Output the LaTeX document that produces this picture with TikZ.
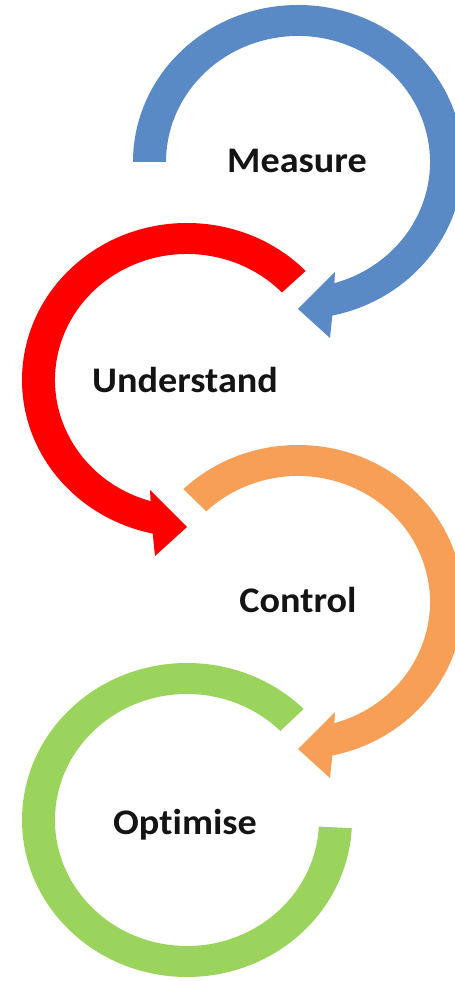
\documentclass[tikz,border=0pt]{standalone}
\usepackage{fontspec}
\setmainfont{Carlito}[Ligatures=NoCommon]
\definecolor{cblue}{HTML}{5A8AC6}
\definecolor{cred}{HTML}{FF0000}
\definecolor{corange}{HTML}{F79F56}
\definecolor{cgreen}{HTML}{9BD45C}
\definecolor{txt}{HTML}{141414}
\begin{document}
\begin{tikzpicture}[x=0.02cm,y=0.02cm,
  lbl/.style={font=\fontsize{20.5}{24}\selectfont\bfseries, text=txt, inner sep=0pt, anchor=base}]
\useasboundingbox (0,0) rectangle (454,981);
% Measure (blue)
\begin{scope}[shift={(298,819)}]
\fill[cblue] (180:165 and 157) arc[start angle=180,end angle=-78,x radius=165,y radius=157]
  -- (32,-176) -- (0,-147) -- (37,-110) -- (-74:132 and 126)
  arc[start angle=-74,end angle=180,x radius=132,y radius=126] -- cycle;
\end{scope}
% Understand (red)
\begin{scope}[shift={(187,601)},xscale=-1]
\fill[cred] (136:165 and 157) arc[start angle=136,end angle=-78,x radius=165,y radius=157]
  -- (32,-176) -- (0,-147) -- (37,-110) -- (-74:132 and 126)
  arc[start angle=-74,end angle=136,x radius=132,y radius=126] -- cycle;
\end{scope}
% Control (orange)
\begin{scope}[shift={(298,379)}]
\fill[corange] (134:165 and 157) arc[start angle=134,end angle=-78,x radius=165,y radius=157]
  -- (32,-176) -- (0,-147) -- (37,-110) -- (-74:132 and 126)
  arc[start angle=-74,end angle=134,x radius=132,y radius=126] -- cycle;
\end{scope}
% Optimise (green)
\begin{scope}[shift={(187,161)},xscale=-1]
\fill[cgreen] (135:165 and 157) arc[start angle=135,end angle=-177,x radius=165,y radius=157]
  -- (-177:132 and 126)
  arc[start angle=-177,end angle=135,x radius=132,y radius=126] -- cycle;
\end{scope}
\node[lbl] (m) at (297,808) {\scalebox{1.06}[1]{Measure}};
\node[lbl] (u) at (185,588) {\scalebox{1.06}[1]{Understand}};
\node[lbl] (c) at (298,368) {\scalebox{1.06}[1]{Control}};
\node[lbl] (o) at (185,146) {\scalebox{1.06}[1]{Optimise}};
\end{tikzpicture}
\end{document}
